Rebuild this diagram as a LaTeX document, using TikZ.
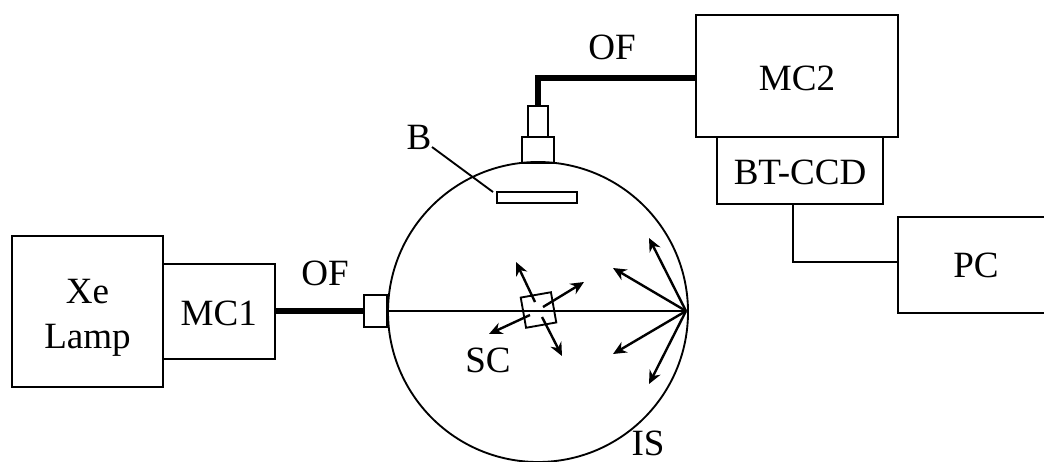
\documentclass[tikz,border=0pt]{standalone}
\usepackage{fontspec}
\setmainfont{Liberation Serif}
\usepackage{tikz}
\usetikzlibrary{arrows.meta,positioning}
\begin{document}
\begin{tikzpicture}[
      x=0.75pt, y=-0.75pt,
      box/.style={draw, line width=1.4pt, inner sep=0pt, outer sep=0pt,
                  align=center, font=\fontsize{27.8}{34}\selectfont},
      textbox/.style={box, text height=22pt},
      lbl/.style={inner sep=0pt, align=center, font=\fontsize{27.8}{34}\selectfont},
      fibre/.style={line width=4pt},
      wire/.style={line width=1.4pt},
      ray/.style={line width=1.8pt, -{Stealth[length=10pt, width=9pt]}}]
    \useasboundingbox (0,0) rectangle (1044,461);

    % sources on the left
    \node[box, minimum width=113pt, minimum height=113pt] (lamp) at (87.5,311.5) {};
    \node[textbox, minimum width=84pt, minimum height=71pt, right=0pt of lamp] (mcone) {MC1};
    \node[box, minimum width=17pt, minimum height=24pt] (portin) at (375.5,311) {};

    % sphere and what sits on it
    \node[draw, circle, line width=1.4pt, inner sep=0pt, outer sep=0pt,
          minimum size=225pt] (sphere) at (538,312) {};
    \node[box, minimum width=24pt, minimum height=19.5pt] (adapter) at (538,150) {};
    \node[box, minimum width=14.5pt, minimum height=23pt, above=0pt of adapter] (plug) {};
    \node[box, minimum width=60pt, minimum height=8pt] (baffle) at (537,197.5) {};
    \node[box, minimum width=23pt, minimum height=23pt, rotate=10] (sample) at (538.5,310) {};

    % detection side
    \node[textbox, minimum width=151.5pt, minimum height=91.5pt] (mctwo) at (797,76) {MC2};
    \node[textbox, minimum width=124.5pt, minimum height=50pt] (ccd) at (800,170.5) {BT-CCD};
    \node[box, minimum width=117pt, minimum height=72pt] (pc) at (976,265) {PC};

    % labels
    \node[lbl] (lamptext) at (87.5,318) {Xe\\Lamp};
    \node[lbl] (ofin) at (325,273) {OF};
    \node[lbl] (ofout) at (612,47) {OF};
    \node[lbl] (blabel) at (419,137) {B};
    \node[lbl] (sclabel) at (488,360) {SC};
    \node[lbl] (islabel) at (648,443) {IS};

    \coordinate (bend) at (538,78);
    \coordinate (leaderin) at (432,147);
    \coordinate (leaderout) at (493,192);
    \coordinate (ccdout) at (793,204);
    \coordinate (wirebend) at (793,262);
    \coordinate (apex) at (686,311);

    \draw[fibre] (mcone.east |- portin) -- (portin);
    \draw[fibre] (plug.north) -- (bend) -- (bend -| mctwo.west);
    \draw[wire] (ccdout) -- (wirebend) -- (wirebend -| pc.west);
    \draw[wire] (leaderin) -- (leaderout);
    \draw[wire] (portin.east) -- (apex);

    % rays leaving the far wall
    \foreach \tipx/\tipy in {649/238, 613/268, 613/354, 649/384} {
      \coordinate (tip) at (\tipx,\tipy);
      \draw[ray] (apex) -- (tip);
    }
    % rays leaving the sample
    \foreach \fromx/\fromy/\tipx/\tipy in {535/302/516/262, 543/307/584/282, 530/315/489/334, 542/317/562/356} {
      \coordinate (from) at (\fromx,\fromy);
      \coordinate (tip) at (\tipx,\tipy);
      \draw[ray] (from) -- (tip);
    }
  \end{tikzpicture}
\end{document}
